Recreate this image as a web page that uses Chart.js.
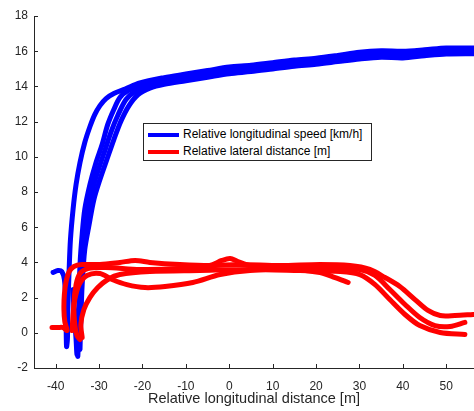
<!DOCTYPE html>
<html>
<head>
<meta charset="utf-8">
<script src="https://cdn.jsdelivr.net/npm/chart.js@4/dist/chart.umd.min.js"></script>
<style>
  html, body { margin: 0; padding: 0; background: #fff; }
  #wrap { position: relative; width: 474px; height: 411px; }
  #legend { position: absolute; left: 143px; top: 123px; width: 229px; height: 38px; box-sizing: border-box;
            border: 1px solid #262626; background: #fff; font-family: "Liberation Sans", Arial, sans-serif; font-size: 12px; color: #000; }
  .lg-line { position: absolute; left: 4px; width: 31px; height: 4px; }
  .lg-text { position: absolute; left: 39px; line-height: 14px; white-space: nowrap; }
</style>
</head>
<body>
<div id="wrap">
  <canvas id="c" width="474" height="411"></canvas>
  <div id="legend">
    <div class="lg-line" style="top:9px;background:#0000ff"></div>
    <div class="lg-text" style="top:3px">Relative longitudinal speed [km/h]</div>
    <div class="lg-line" style="top:26px;background:#ff0000"></div>
    <div class="lg-text" style="top:20px">Relative lateral distance [m]</div>
  </div>
</div>
<script>
// ---- data (x: relative longitudinal distance [m]) ----
const xTicks = [-40, -30, -20, -10, 0, 10, 20, 30, 40, 50];
const yTicks = [-2, 0, 2, 4, 6, 8, 10, 12, 14, 16, 18];
const seriesNames = ["Relative longitudinal speed [km/h]", "Relative lateral distance [m]"];

// Relative longitudinal speed traces [km/h]
const speedTrace1 = [[-40.6,3.43],[-39.5,3.54],[-38.6,3.48],[-38.0,3.03],[-37.7,1.89],[-37.6,0.47],[-37.5,-0.78],[-37.3,-0.38],
  [-37.2,1.32],[-36.9,3.60],[-36.6,5.30],[-36.0,7.01],[-35.3,8.43],[-34.4,9.68],[-33.3,10.81],[-32.1,11.72],[-31.0,12.40],
  [-29.8,12.91],[-28.4,13.31],[-26.6,13.60],[-24.0,13.85],[-20.6,14.2],[-15,14.5],[-10,14.7],[-5,14.9],[0,15.1],
  [5,15.2],[10,15.35],[15,15.5],[20,15.6],[25,15.76],[30,15.94],[35,16.02],[40,16.0],[45,16.08],[50,16.18],[56.5,16.18]];
const speedTrace2 = [[-36.0,2.46],[-35.8,1.32],[-35.3,-0.38],[-35.1,-1.23],[-34.9,-0.66],[-34.6,1.89],[-34.4,3.88],[-33.9,5.59],
  [-33.3,7.01],[-32.1,8.43],[-30.7,9.68],[-29.3,10.70],[-28.0,11.84],[-26.6,12.69],[-25.2,13.37],[-23.3,13.77],[-20,14.05],
  [-15,14.27],[-10,14.47],[-5,14.67],[0,14.87],[5,14.99],[10,15.13],[15,15.27],[20,15.39],[25,15.53],[30,15.69],[35,15.79],
  [40,15.77],[45,15.87],[50,15.96],[56.5,15.98]];
const speedTrace3 = [[-34.9,-1.34],[-34.6,0.19],[-34.5,1.89],[-34.2,3.88],[-33.5,5.59],[-32.6,7.01],[-31.4,8.26],[-30.0,9.39],
  [-28.6,10.41],[-27.3,11.38],[-25.6,12.40],[-23.8,13.26],[-21.7,13.71],[-18,14.1],[-15,14.34],[-10,14.56],[-5,14.76],
  [0,14.96],[5,15.08],[10,15.23],[15,15.37],[20,15.49],[25,15.63],[30,15.81],[35,15.89],[40,15.87],[45,15.95],[50,16.05],[56.5,16.07]];
const speedTrace4 = [[-34.4,-0.95],[-34.2,0.76],[-33.9,2.74],[-33.3,4.73],[-32.3,6.15],[-31.2,7.57],[-29.8,8.71],[-28.2,9.85],
  [-26.6,10.98],[-25.0,12.01],[-23.1,12.91],[-21.0,13.54],[-18.3,13.9],[-15,14.12],[-10,14.32],[-5,14.52],[0,14.72],[5,14.84],
  [10,14.99],[15,15.14],[20,15.26],[25,15.41],[30,15.56],[35,15.66],[40,15.62],[45,15.74],[50,15.84],[56.5,15.86]];

// Relative lateral distance traces [m]
const lateralTrace1 = [[-40.85,0.30],[-39.5,0.30],[-38.3,0.30],[-37.4,0.13],[-37.9,0.64],[-38.1,1.32],[-38.0,2.18],[-37.6,2.91],
  [-36.9,3.48],[-35.8,3.77],[-33.9,3.88],[-29.8,3.88],[-25.2,4.00],[-21.7,4.11],[-18.3,4.00],[-11.4,3.88],[-4.5,3.82],
  [2.5,3.88],[11.7,3.82],[20.9,3.88],[27.8,3.82],[32.4,3.60],[35.9,3.14],[39.3,2.63],[42.8,1.89],[45.8,1.27],[48.6,0.98],
  [52.0,0.98],[56.2,1.04]];
const lateralTrace2 = [[-34.4,-0.38],[-35.1,-0.15],[-35.6,0.47],[-35.8,1.61],[-35.3,2.74],[-34.4,3.37],[-32.6,3.65],[-28.6,3.71],
  [-20.6,3.60],[-11.4,3.65],[-4.5,3.82],[-1.7,4.11],[0.2,4.22],[2.0,4.05],[4.8,3.82],[14.0,3.77],[23.2,3.71],[30.1,3.60],
  [33.6,3.26],[37.0,2.46],[40.5,1.61],[43.9,0.87],[47.4,0.41],[50.9,0.36],[54.3,0.59]];
const lateralTrace3 = [[-36.2,0.13],[-36.0,1.04],[-35.6,1.89],[-34.6,2.74],[-32.8,3.26],[-29.8,3.37],[-27.0,3.03],[-23.6,2.74],
  [-19.4,2.57],[-14.8,2.63],[-8.4,2.86],[-2.1,3.31],[4.8,3.54],[14.0,3.60],[20.9,3.43],[24.4,3.14],[27.4,2.86]];
const lateralTrace4 = [[-33.9,-0.27],[-34.2,0.47],[-33.5,1.32],[-32.1,2.01],[-30.3,2.57],[-28.0,3.03],[-25.2,3.31],[-18.3,3.48],
  [-6.8,3.54],[4.8,3.60],[16.3,3.54],[25.5,3.48],[30.1,3.31],[33.6,2.74],[37.0,1.89],[40.5,1.04],[43.9,0.41],[48.6,0.02],[54.3,-0.10]];

const speedTraces = [speedTrace1, speedTrace2, speedTrace3, speedTrace4];
const lateralTraces = [lateralTrace1, lateralTrace2, lateralTrace3, lateralTrace4];

const AXIS = '#262626';
const FONT = '"Liberation Sans", Arial, Helvetica, sans-serif';

function mk(trace, color, name, order) {
  return {
    label: name,
    data: trace.map(p => ({x: p[0], y: p[1]})),
    showLine: true, borderColor: color, backgroundColor: color, borderWidth: 5,
    pointRadius: 0, tension: 0.3, borderCapStyle: 'round', borderJoinStyle: 'round', order: order
  };
}
const datasets = [];
lateralTraces.forEach(t => datasets.push(mk(t, '#ff0000', seriesNames[1], 0)));
speedTraces.forEach(t => datasets.push(mk(t, '#0000ff', seriesNames[0], 1)));

const innerTicks = {
  id: 'innerTicks',
  afterDraw(chart) {
    const {ctx, chartArea: a, scales: {x, y}} = chart;
    ctx.save();
    ctx.strokeStyle = AXIS; ctx.lineWidth = 1;
    ctx.beginPath();
    xTicks.forEach(v => { const p = Math.round(x.getPixelForValue(v)) + 0.5; ctx.moveTo(p, a.bottom); ctx.lineTo(p, a.bottom - 4); });
    yTicks.forEach(v => { const p = Math.round(y.getPixelForValue(v)) + 0.5; ctx.moveTo(a.left, p); ctx.lineTo(a.left + 4, p); });
    ctx.stroke();
    ctx.restore();
  }
};

new Chart(document.getElementById('c'), {
  type: 'scatter',
  data: { datasets },
  options: {
    responsive: false, animation: false, devicePixelRatio: 1,
    layout: { padding: { top: 16, left: 0, right: 0, bottom: 0 } },
    plugins: { legend: { display: false }, tooltip: { enabled: false } },
    scales: {
      x: {
        type: 'linear', min: -45, max: 56.4,
        afterBuildTicks: s => { s.ticks = xTicks.map(v => ({value: v})); },
        afterFit: s => { s.height = 43; },
        grid: { display: true, drawOnChartArea: false, drawTicks: false },
        border: { display: true, color: AXIS, width: 1 },
        ticks: { color: AXIS, font: { family: FONT, size: 12 }, padding: 11, maxRotation: 0 },
        title: { display: true, text: 'Relative longitudinal distance [m]', color: AXIS, font: { family: FONT, size: 14.5 }, padding: { top: 0, bottom: 3 } }
      },
      y: {
        type: 'linear', min: -2, max: 18,
        afterBuildTicks: s => { s.ticks = yTicks.map(v => ({value: v})); },
        afterFit: s => { s.width = 34; },
        grid: { display: true, drawOnChartArea: false, drawTicks: false },
        border: { display: true, color: AXIS, width: 1 },
        ticks: { color: AXIS, font: { family: FONT, size: 12 }, padding: 6 }
      }
    }
  },
  plugins: [innerTicks]
});
</script>
</body>
</html>
